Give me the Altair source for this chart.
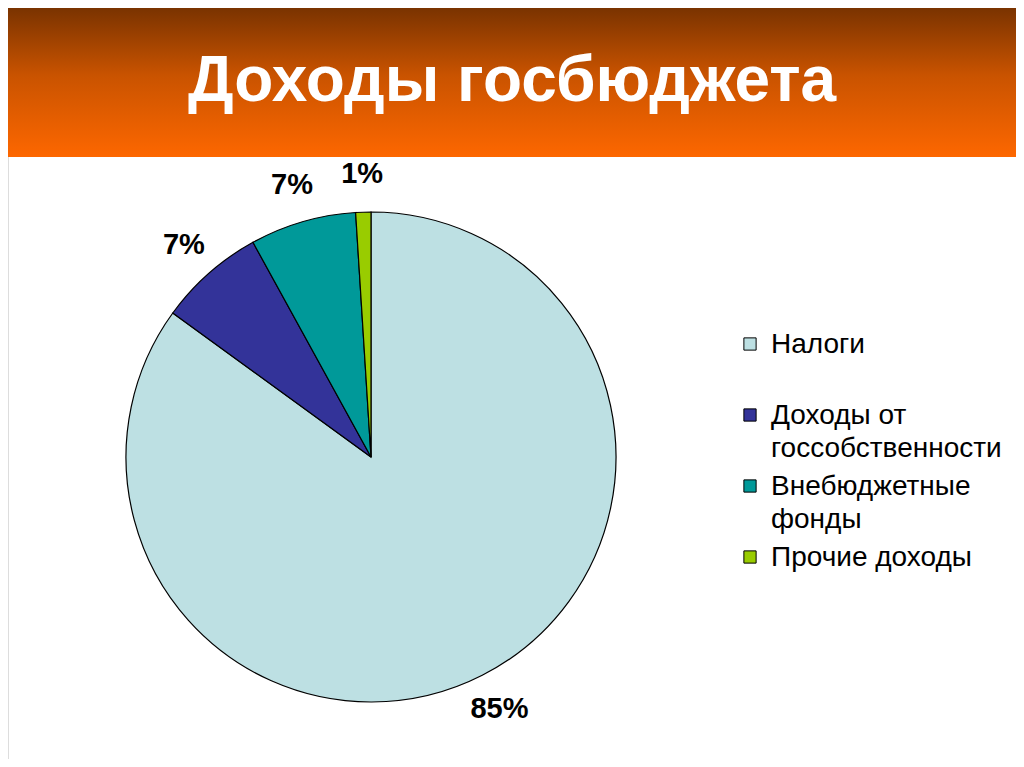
import json
import altair as alt
import pandas as pd

# ---- data ----
title_text = "Доходы госбюджета"
categories = ["Налоги", "Доходы от госсобственности", "Внебюджетные фонды", "Прочие доходы"]
shares = [85, 7, 7, 1]
pct_labels = ["85%", "7%", "7%", "1%"]
legend_lines = [["Налоги", " "], ["Доходы от", "госсобственности"],
                ["Внебюджетные", "фонды"], ["Прочие доходы", " "]]
colors = ["#bde0e3", "#333399", "#009999", "#99cc00"]

df = pd.DataFrame({"category": categories, "share": shares,
                   "label": pct_labels, "order": list(range(len(categories)))})
head_df = pd.DataFrame({"t": [title_text]})

W, H = 1008, 751
CX, CY = 363, 449
HEAD_H = 149

# legend label expression (multi-line labels)
expr = json.dumps(legend_lines[-1], ensure_ascii=False)
for name, lines in reversed(list(zip(categories[:-1], legend_lines[:-1]))):
    expr = "datum.label == %s ? %s : (%s)" % (
        json.dumps(name, ensure_ascii=False), json.dumps(lines, ensure_ascii=False), expr)

header = alt.Chart(head_df).mark_rect(
    color=alt.Gradient(
        gradient="linear", x1=0, x2=0, y1=0, y2=1,
        stops=[alt.GradientStop(offset=0, color="#7a3300"),
               alt.GradientStop(offset=0.45, color="#c95300"),
               alt.GradientStop(offset=1, color="#fd6700")])
).encode(x=alt.value(0), x2=alt.value(W), y=alt.value(0), y2=alt.value(HEAD_H))

title = alt.Chart(head_df).mark_text(
    font="Liberation Sans", fontWeight="bold", fontSize=64, color="white",
    align="center", baseline="alphabetic"
).encode(text="t:N", x=alt.value(W / 2), y=alt.value(93))

base = alt.Chart(df).encode(
    theta=alt.Theta("share:Q", stack=True),
    order=alt.Order("order:Q"),
)

arcs = base.mark_arc(radius=245, stroke="black", strokeWidth=1.2).encode(
    x=alt.value(CX), y=alt.value(CY),
    color=alt.Color(
        "category:N",
        scale=alt.Scale(domain=categories, range=colors),
        legend=alt.Legend(
            title=None, orient="none", legendX=728, legendY=322,
            symbolType="square", symbolSize=150, symbolStrokeColor="black",
            symbolStrokeWidth=1, symbolOpacity=1,
            labelFont="Liberation Sans", labelFontSize=28, labelColor="black",
            labelLimit=0, labelOffset=7, labelBaseline="top",
            labelExpr=expr,
        ),
    ),
)

texts = base.mark_text(
    radius=283, font="Liberation Sans", fontWeight="bold", fontSize=29,
    color="black", align="center", baseline="middle"
).encode(text="label:N", x=alt.value(CX), y=alt.value(CY))

chart = alt.layer(header, title, arcs, texts).properties(
    width=W, height=H, padding=0, autosize="none"
).configure_view(stroke=None).configure(
    style={"guide-label": {"lineHeight": 33, "dy": -13}}
).configure_legend(rowPadding=9)

chart.save("out.html", embed_options={"renderer": "svg", "actions": False})
